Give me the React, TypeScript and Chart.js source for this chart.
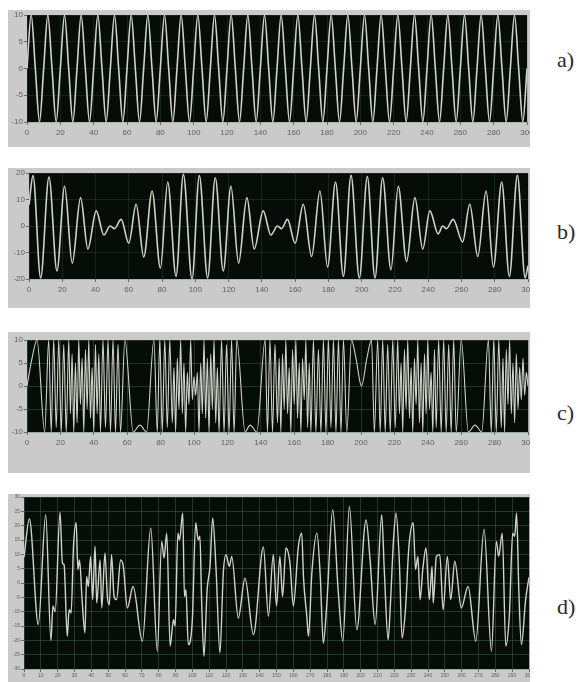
import React, { useEffect, useRef } from "react";
import { Chart, registerables } from "chart.js";
Chart.register(...registerables);

// ---------- DATA ----------
// a) pure sine: values every quarter period (2.5 units)
const A_STEP = 2.5;
const A_Y = [
  0, 10, 0, -10, 0, 10, 0, -10, 0, 10, 0, -10, 0, 10, 0, -10, 0, 10, 0, -10,
  0, 10, 0, -10, 0, 10, 0, -10, 0, 10, 0, -10, 0, 10, 0, -10, 0, 10, 0, -10,
  0, 10, 0, -10, 0, 10, 0, -10, 0, 10, 0, -10, 0, 10, 0, -10, 0, 10, 0, -10,
  0, 10, 0, -10, 0, 10, 0, -10, 0, 10, 0, -10, 0, 10, 0, -10, 0, 10, 0, -10,
  0, 10, 0, -10, 0, 10, 0, -10, 0, 10, 0, -10, 0, 10, 0, -10, 0, 10, 0, -10,
  0, 10, 0, -10, 0, 10, 0, -10, 0, 10, 0, -10, 0, 10, 0, -10, 0, 10, 0, -10,
  0,
];

// b) beating signal: extrema
const B_X = [
  0, 2.4, 7, 12, 16.8, 21.4, 26, 31, 35.4, 40.4, 45, 48.8, 51.4, 55.4, 60, 64.4, 69, 74, 79, 83.4,
  88.4, 92.8, 98, 102.4, 107.4, 112, 116.8, 121.4, 126, 131, 135.4, 140.8, 145.4, 149.4, 151.8,
  155.4, 160, 164.9, 169.9, 174.9, 179.5, 184.3, 189, 193.6, 198.6, 203.4, 208, 212.6, 217.6, 222,
  227, 232, 236.7, 241, 246, 248.7, 251, 255, 260.7, 265, 269.8, 274.8, 279.2, 284.2, 288.8, 293.6,
  298.3, 300,
];
const B_Y = [
  8, 19, -19.6, 18.5, -17, 15, -14, 10.7, -8.7, 5.7, -3.4, 0, -1, 2.5, -6.5, 8.2, -11.7, 13.2, -15.9, 16.6,
  -19, 19.5, -20, 19, -19.6, 18.2, -17, 15, -14, 10.7, -8.7, 5.7, -3.4, 0, -1,
  2.5, -6.5, 8.2, -11.5, 13.2, -15.5, 16.6, -19, 19.1, -19.6, 18.7, -19.6, 18.2, -16.5, 15,
  -13.4, 10.7, -8.7, 5.7, -3, 0, -1, 2.5, -6, 8.2, -11.5, 13.2, -15.5, 16.6, -19, 19.1,
  -19.6, -15,
];

// c) clipped chirp-like signal: turning points
const C_X = [
  0, 3, 6, 10.6,
  13, 14.5, 16, 17.5, 19, 20.5, 22, 23.5, 25, 26, 27, 28, 29, 30, 31, 32, 33, 34, 35, 36, 37, 38, 39, 40,
  41, 42, 43, 44, 45.5, 47, 48.5, 50, 51.5, 53, 54.5, 56,
  58.6, 63.6, 67.6, 71.6, 76,
  78, 79.5, 81, 82.5, 84, 85.5, 87, 88, 89, 90, 91, 92, 93, 94, 95, 96, 97, 98, 99, 100, 101, 102, 103,
  104, 105, 106, 107, 108, 109, 110, 111, 112, 113, 114, 115, 116.5, 118, 119.5, 121, 122.5, 124,
  125.6, 130.6, 133.6, 137.6, 142.6,
  144, 145.5, 147, 148.5, 150, 151, 152, 153, 154, 155, 156, 157, 158, 159, 160, 161, 162, 163, 164,
  165, 166, 167, 168, 169, 170, 171.5, 173, 174.5, 176, 177.5, 179, 180.5, 182, 183.5, 185, 186.5,
  188, 189.5, 191.5,
  194.3, 197, 200.3, 203.5, 206.3,
  208, 210, 211.5, 213, 214.5, 216, 217.5, 219, 220.5, 222, 223, 224, 225, 226, 227, 228, 229, 230,
  231, 232, 233, 234, 235, 236, 237, 238, 239, 240, 241, 242, 243, 244, 245, 246.5, 248, 249.5, 251,
  252.5, 254, 255.5, 257,
  260, 264.3, 268.3, 272.3, 276.3,
  278, 279.5, 281, 282.5, 284, 285, 286, 287, 288, 289, 290, 291, 292, 293, 294, 295, 296, 297, 298,
  299, 300,
];
const C_Y = [
  0, 6, 10, -10,
  10, -10, 10, -9, 10, -10, 9, -10, 10, -6, 7, -10, 5, -8, 10, -4, 6, -10, 8, -5, 10, -7, 4, -10,
  9, -6, 7, -10, 10, -9, 10, -10, 10, -10, 9, -10,
  10, -10, -8.5, -10, 10,
  -10, 10, -10, 10, -9, 10, -8, 4, -10, 6, -5, 10, -6, 5, -10, 3, -4, 10, -3, 2, -2, 3, -10,
  5, -6, 10, -7, 6, -10, 7, -5, 10, -8, 4, -10, 10, -10, 9, -10, 10, -10,
  10, -10, -8.5, -10, 10,
  -10, 10, -10, 9, -8, 6, -10, 7, -5, 10, -6, 4, -10, 8, -4, 10, -7, 5, -10,
  6, -3, 10, -9, 5, -10, 10, -10, 8, -10, 10, -10, 10, -9, 10, -10, 10,
  -10, 10, -10,
  10, 6, 0, 6, 10,
  -10, 10, -10, 10, -10, 9, -10, 10, -9, 10, -6, 5, -10, 8, -5, 10, -7, 4,
  -10, 6, -4, 10, -8, 5, -10, 7, -6, 10, -5, 3, -10, 8, -9, 10, -10, 10, -10,
  9, -10, 10, -10,
  10, -10, -8.5, -10, 10,
  -10, 10, -10, 10, -9, 6, -10, 8, -4, 10, -6, 5, -8, 7, -5, 4, -3, 6, -2,
  3, 0,
];

// d) noisy composite signal: turning points
const D_X = [
  0, 3.2, 8.5, 12.9, 16, 17.2, 18.5, 21.4, 22.8, 23.8, 25.7, 26.8, 28, 29.4, 31, 32, 33, 34.5, 36.2,
  37.2, 38.2, 39.6, 40.8, 42.2, 43.2, 45.2, 46.2, 48.1, 49.5, 50.7, 52, 53.5, 55, 57.4, 59, 61.4,
  64.8, 70.3, 75.3, 79.2, 81.8, 83.2, 84.8, 86.8, 88.8, 89.8, 91.4, 92.4, 94.3, 95.3, 96.2, 97.6,
  100, 102, 103.5, 104.5, 105.5, 106.9, 108.8, 110.5, 112.1, 114.1, 116.4, 118.4, 120, 122, 123.4,
  127.3, 131.3, 136.3, 142.2, 145.2, 148.1, 150, 152, 153.6, 155.6, 158, 160, 163, 165, 166, 168,
  169, 171, 174, 176, 177.8, 179.8, 183.4, 186.6, 189.4, 193.3, 197.7, 203.2, 205.6, 208.6, 212.5,
  214.1, 216.3, 217.7, 219.5, 221, 223, 224.6, 226.6, 228.6, 231.2, 232.6, 234, 235.3, 236.9, 238.8,
  240.8, 242.4, 243.1, 245, 247, 249, 251.5, 253.5, 255.9, 259.8, 263.8, 268.4, 273.3, 277.7, 280.6,
  282, 284.1, 286.2, 288.4, 290.3, 291.5, 292.6, 294, 295.5, 298, 300,
];
const D_Y = [
  9, 22.3, -14.5, 23.8, -20, -8, -10, 24.7, 7, 6.4, -18.6, -9.3, -10.5, 12.8, 21, 4.7, 8, -5.8, -17.4,
  2.3, -1.2, 9.3, -5.8, 12.8, -7, 8, -8.7, 10.5, -4.7, -7.6, 9.9, -4.7, -5.8, 8, 5.8, -8.7,
  -1.2, -20.3, 19.2, -23.8, 14.5, 8.7, 17.4, -22, -12.8, -15, 17.4, 15, 24.4, -4.7, -2.3, -21.5,
  -12.8, 21, 15, 16.3, -5.8, -25.6, -2.3, 5.8, 22.7, 4.7, -24.4, 3.5, 9.9, 5.8, 9.3,
  -12.2, 1.7, -18, 12.6, -11.6, 9.9, -8, 9.3, -4.7, 12.2, 7, -8, 12.8, 17.4, 2.3, -11.6,
  -18.6, 3.5, 17.4, 2.3, -21, -8, 25.6, -2.3, -20.3, 26.7, -16.3, 22, 8, -14.5, 23.8,
  3.5, -19.8, -7, 15, 24.4, 7, -19.2, -9.3, 12.2, 21, 4.7, 9.3, -5.8, 4.7, 12.2,
  -5.8, 5.8, -7, 9.3, 9.9, -9.3, 9.3, -5.8, 7.6, -8.7, -1.2, -20.3, 18.8, -23.8, 14.5,
  9.3, 17.4, -22, -10.5, 17.4, 16.3, 24.4, -3.5, -21.5, -5.8, 2,
];

// ---------- PANELS (geometry / style) ----------
type Box = [number, number, number, number]; // left, top, right, bottom
interface PanelCfg {
  frame: Box;
  plot: Box;
  points: { x: number; y: number }[];
  yMin: number;
  yMax: number;
  yStep: number;
  xStep: number;
  fontSize: number;
  lineWidth: number;
  gridColor: string;
  label: string;
  labelY: number;
}

const ptsA = A_Y.map((y, i) => ({ x: i * A_STEP, y }));
const zip = (xs: number[], ys: number[]) => xs.map((x, i) => ({ x, y: ys[i] }));

const PANELS: PanelCfg[] = [
  { frame: [8, 10, 530, 147], plot: [27, 15, 527, 122], points: ptsA, yMin: -10, yMax: 10, yStep: 5, xStep: 20, fontSize: 8, lineWidth: 1.6, gridColor: "rgba(70,120,70,0.22)", label: "a)", labelY: 60 },
  { frame: [8, 168, 530, 308], plot: [29, 173, 528, 279], points: zip(B_X, B_Y), yMin: -20, yMax: 20, yStep: 10, xStep: 20, fontSize: 8, lineWidth: 1.6, gridColor: "rgba(70,120,70,0.25)", label: "b)", labelY: 232 },
  { frame: [8, 332, 530, 473], plot: [27, 340, 528, 432], points: zip(C_X, C_Y), yMin: -10, yMax: 10, yStep: 5, xStep: 20, fontSize: 8, lineWidth: 1.1, gridColor: "rgba(70,120,70,0.4)", label: "c)", labelY: 413 },
  { frame: [8, 494, 530, 682], plot: [24, 497, 529, 669], points: zip(D_X, D_Y), yMin: -30, yMax: 30, yStep: 5, xStep: 10, fontSize: 5, lineWidth: 1.4, gridColor: "rgba(80,130,80,0.38)", label: "d)", labelY: 607 },
];

const plotBg = {
  id: "plotBg",
  beforeDraw(chart: any) {
    const { ctx, chartArea } = chart;
    if (!chartArea) return;
    ctx.save();
    ctx.fillStyle = "#060c07";
    ctx.fillRect(chartArea.left, chartArea.top, chartArea.right - chartArea.left, chartArea.bottom - chartArea.top);
    ctx.restore();
  },
};

function PanelChart({ cfg }: { cfg: PanelCfg }) {
  const ref = useRef<HTMLCanvasElement | null>(null);
  const [fl, ft, fr, fb] = cfg.frame;
  const [pl, pt, pr, pb] = cfg.plot;
  const W = fr - fl;
  const H = fb - ft;
  useEffect(() => {
    const canvas = ref.current;
    if (!canvas) return;
    const yW = pl - fl - 2;
    const xH = Math.min(20, fb - pb);
    const padding = { left: pl - fl - yW, top: pt - ft, right: fr - pr, bottom: fb - pb - xH };
    const font = { family: "'Liberation Sans', Arial, sans-serif", size: cfg.fontSize };
    const chart = new Chart(canvas, {
      type: "line",
      data: {
        datasets: [
          {
            data: cfg.points,
            borderColor: "#d2d4cc",
            borderWidth: cfg.lineWidth,
            pointRadius: 0,
            cubicInterpolationMode: "monotone",
            fill: false,
          },
        ],
      },
      options: {
        responsive: false,
        animation: false,
        devicePixelRatio: 1,
        layout: { padding },
        plugins: { legend: { display: false }, tooltip: { enabled: false } },
        scales: {
          x: {
            type: "linear",
            min: 0,
            max: 300,
            ticks: { stepSize: cfg.xStep, autoSkip: false, maxRotation: 0, font, color: "#5e5e5e", padding: cfg.fontSize > 6 ? 3 : 1 },
            grid: { color: cfg.gridColor, tickColor: "#6a6a6a", tickLength: 3 },
            border: { display: false },
            afterFit: (s: any) => {
              s.height = xH;
              s.paddingLeft = 0;
              s.paddingRight = 0;
            },
          },
          y: {
            type: "linear",
            min: cfg.yMin,
            max: cfg.yMax,
            ticks: { stepSize: cfg.yStep, autoSkip: false, font, color: "#5e5e5e", padding: 1 },
            grid: { color: cfg.gridColor, tickColor: "#6a6a6a", tickLength: 3 },
            border: { display: false },
            afterFit: (s: any) => {
              s.width = yW;
              s.paddingTop = 0;
              s.paddingBottom = 0;
            },
          },
        },
      } as any,
      plugins: [plotBg],
    });
    return () => chart.destroy();
  }, [cfg]);
  return (
    <>
      <div style={{ position: "absolute", left: fl, top: ft, width: W, height: H, background: "#cacaca" }}>
        <canvas ref={ref} width={W} height={H} style={{ display: "block", width: W, height: H }} />
      </div>
      <div
        style={{
          position: "absolute",
          left: 557,
          top: cfg.labelY - 14,
          fontFamily: "'Liberation Serif', 'Times New Roman', serif",
          fontSize: 22,
          lineHeight: "28px",
          color: "#2a2a2a",
        }}
      >
        {cfg.label}
      </div>
    </>
  );
}

export default function App() {
  return (
    <div style={{ position: "fixed", left: 0, top: 0, width: 580, height: 682, background: "#ffffff", overflow: "hidden" }}>
      {PANELS.map((p) => (
        <PanelChart key={p.label} cfg={p} />
      ))}
    </div>
  );
}
